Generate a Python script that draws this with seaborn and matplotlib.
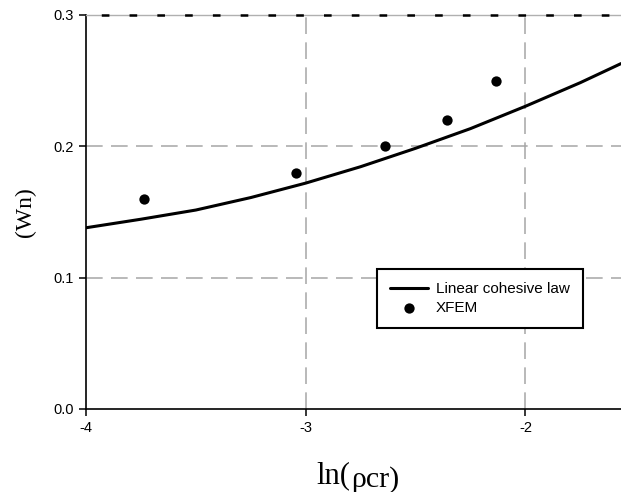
import matplotlib
matplotlib.use("Agg")
import matplotlib.pyplot as plt
import seaborn as sns
import pandas as pd

# ---- data ----
curve_x = [-4.0, -3.75, -3.5, -3.25, -3.0, -2.75, -2.5, -2.25, -2.0, -1.75, -1.565]
curve_y = [0.138, 0.1445, 0.1515, 0.161, 0.172, 0.1845, 0.1985, 0.2135, 0.2305, 0.2485, 0.263]
xfem_x = [-3.736, -3.045, -2.64, -2.356, -2.135]
xfem_y = [0.160, 0.180, 0.200, 0.220, 0.250]
x_ticks = [-4, -3, -2]
y_ticks = [0.0, 0.1, 0.2, 0.3]
y_tick_labels = ["0.0", "0.1", "0.2", "0.3"]
series_names = ["Linear cohesive law", "XFEM"]

sns.set_theme(style="white")
plt.rcParams["font.family"] = ["Liberation Sans", "DejaVu Sans"]
plt.rcParams["lines.scale_dashes"] = False

fig = plt.figure(figsize=(6.21, 4.92), dpi=100)
L, R, T, B = 86, 621, 15, 409
W, H = 621, 492
ax = fig.add_axes([L / W, (H - B) / H, (R - L) / W, (B - T) / H])

df_curve = pd.DataFrame({"x": curve_x, "y": curve_y})
df_pts = pd.DataFrame({"x": xfem_x, "y": xfem_y})

sns.lineplot(data=df_curve, x="x", y="y", ax=ax, color="black", linewidth=2.2,
             label=series_names[0], zorder=4, sort=True)
sns.scatterplot(data=df_pts, x="x", y="y", ax=ax, color="black", s=55,
                edgecolor="black", linewidth=0, label=series_names[1], zorder=5)

ax.set_xlim(-4, -1.565)
ax.set_ylim(0.0, 0.3)
ax.set_xticks(x_ticks)
ax.set_xticklabels([str(t) for t in x_ticks])
ax.set_yticks(y_ticks)
ax.set_yticklabels(y_tick_labels)

# grid
grid_kw = dict(color="#a6a6a6", linewidth=1.1, linestyle=(0, (12, 6)), zorder=1)
for xv in x_ticks[1:]:
    ax.axvline(xv, **grid_kw)
for yv in y_ticks[1:3]:
    ax.axhline(yv, **grid_kw)

# spines
for s in ["left", "bottom"]:
    ax.spines[s].set_color("black")
    ax.spines[s].set_linewidth(1.2)
ax.spines["right"].set_visible(False)
ax.spines["top"].set_color("#b0b0b0")
ax.spines["top"].set_linewidth(1.0)
ax.axhline(0.3, color="black", linewidth=1.8, linestyle=(9, (5.5, 14.5)), zorder=3, clip_on=False)

ax.tick_params(axis="both", which="major", direction="out", length=5, width=1.1,
               color="black", labelsize=10.5, labelcolor="black", pad=4,
               left=True, bottom=True)

# y label
ax.set_ylabel("(Wn)", fontsize=17, family=["Liberation Serif", "DejaVu Serif"], color="black")
ax.yaxis.set_label_coords((36 - L) / (R - L), 0.5)
ax.set_xlabel("")

# x label in two pieces: "ln(" and lowered "ρcr)"
t1 = fig.text(316.5 / W, (H - 483) / H, "ln(", fontsize=22, color="black",
              family=["Liberation Serif", "DejaVu Serif"], ha="left", va="baseline")
fig.canvas.draw()
bb = t1.get_window_extent(renderer=fig.canvas.get_renderer())
fig.text((bb.x1 + 0.5) / W, (H - 487) / H, "ρcr)", fontsize=21.5, color="black",
         family=["Liberation Serif", "DejaVu Serif"], ha="left", va="baseline")

# legend
leg = ax.legend(loc="upper left", bbox_to_anchor=((376.7 - L) / (R - L), (B - 273) / (B - T),
                                                  (583 - 376.7) / (R - L), 0.01),
                mode="expand", borderaxespad=0, fontsize=11, frameon=True,
                fancybox=False, framealpha=1, edgecolor="black", labelcolor="black",
                handlelength=2.5, handletextpad=0.5, borderpad=0.85, labelspacing=0.3,
                markerscale=1.0)
leg.get_frame().set_linewidth(1.5)
leg.set_zorder(10)

fig.savefig("out.png", dpi=100)
